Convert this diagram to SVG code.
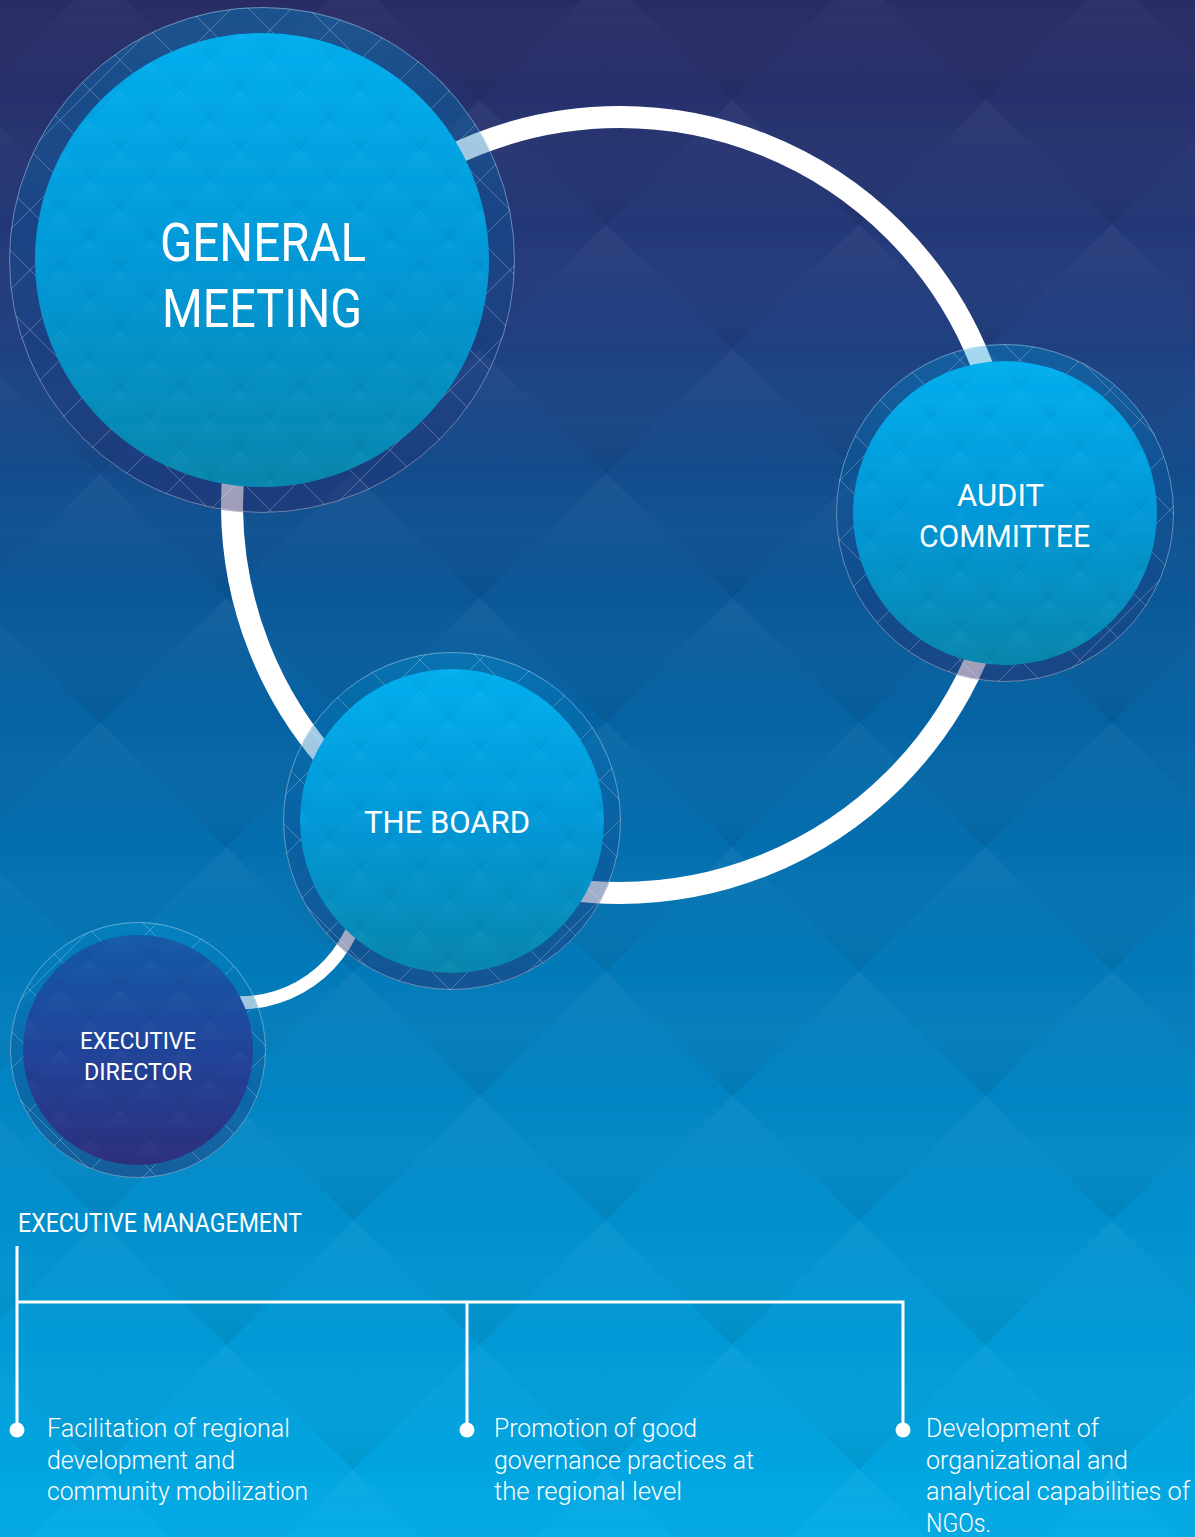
<svg xmlns="http://www.w3.org/2000/svg" width="1195" height="1537" viewBox="0 0 1195 1537">
<defs>
<style>
.lbl{fill:#fff;font-family:Roboto,"Liberation Sans",sans-serif;font-weight:400}
.body{fill:#fff;font-family:Roboto,"Liberation Sans",sans-serif;font-weight:300;font-size:25px}
.conn{fill:none;stroke:#fff}
.tree{fill:none;stroke:#fff;stroke-width:3}
.edge{fill:none;stroke:#fff;stroke-opacity:0.35;stroke-width:1}
</style>
<linearGradient id="bg" x1="0" y1="0" x2="0" y2="1537" gradientUnits="userSpaceOnUse">
<stop offset="0" stop-color="#272a63"/>
<stop offset="0.2" stop-color="#223c7e"/>
<stop offset="0.33" stop-color="#0f4f90"/>
<stop offset="0.45" stop-color="#0560a0"/>
<stop offset="0.6" stop-color="#0275b5"/>
<stop offset="0.75" stop-color="#0189c8"/>
<stop offset="0.9" stop-color="#009dd9"/>
<stop offset="1" stop-color="#00abe6"/>
</linearGradient>
<linearGradient id="shade" x1="0" y1="0" x2="0" y2="1">
<stop offset="0" stop-color="#fff" stop-opacity="0.05"/>
<stop offset="0.5" stop-color="#fff" stop-opacity="0"/>
<stop offset="1" stop-color="#000" stop-opacity="0.08"/>
</linearGradient>
<linearGradient id="shade2" x1="0" y1="0" x2="0" y2="1">
<stop offset="0" stop-color="#fff" stop-opacity="0.04"/>
<stop offset="0.5" stop-color="#fff" stop-opacity="0"/>
<stop offset="1" stop-color="#000" stop-opacity="0.05"/>
</linearGradient>
<pattern id="bigdia" patternUnits="userSpaceOnUse" x="100" y="100" width="253" height="249">
<polygon points="126.5,0 253,124.5 126.5,249 0,124.5" fill="url(#shade)"/>
<polygon points="0,-124.5 126.5,0 0,124.5 -126.5,0" fill="url(#shade)"/>
<polygon points="253,-124.5 379.5,0 253,124.5 126.5,0" fill="url(#shade)"/>
<polygon points="0,124.5 126.5,249 0,373.5 -126.5,249" fill="url(#shade)"/>
<polygon points="253,124.5 379.5,249 253,373.5 126.5,249" fill="url(#shade)"/>
</pattern>
<pattern id="finedia" patternUnits="userSpaceOnUse" x="0" y="0" width="60" height="60">
<polygon points="30,0 60,30 30,60 0,30" fill="url(#shade2)"/>
<polygon points="0,-30 30,0 0,30 -30,0" fill="url(#shade2)"/>
<polygon points="60,-30 90,0 60,30 30,0" fill="url(#shade2)"/>
<polygon points="0,30 30,60 0,90 -30,60" fill="url(#shade2)"/>
<polygon points="60,30 90,60 60,90 30,60" fill="url(#shade2)"/>
</pattern>
<pattern id="hatch" patternUnits="userSpaceOnUse" x="0" y="0" width="60" height="60">
<path d="M0 0L60 60M60 0L0 60" stroke="#fff" stroke-opacity="0.3" stroke-width="0.8"/>
</pattern>
<linearGradient id="ring" x1="0" y1="0" x2="0" y2="1">
<stop offset="0" stop-color="#0095d5" stop-opacity="0.36"/>
<stop offset="0.45" stop-color="#0a5598" stop-opacity="0.38"/>
<stop offset="1" stop-color="#2a2464" stop-opacity="0.45"/>
</linearGradient>
<linearGradient id="inner" x1="0" y1="0" x2="0" y2="1">
<stop offset="0" stop-color="#00aeee"/>
<stop offset="0.5" stop-color="#0098d8"/>
<stop offset="1" stop-color="#0786ad"/>
</linearGradient>
<linearGradient id="innerDark" x1="0" y1="0" x2="0" y2="1">
<stop offset="0" stop-color="#1259a6"/>
<stop offset="0.5" stop-color="#1f4399"/>
<stop offset="1" stop-color="#2b2e7c"/>
</linearGradient>
</defs>

<rect width="1195" height="1537" fill="url(#bg)"/>
<rect width="1195" height="1537" fill="url(#bigdia)"/>

<g id="connectors">
<circle class="conn" cx="620" cy="505" r="388" stroke-width="22"/>
<path class="conn" d="M218.6 1001 A123 123 0 0 0 361 901" stroke-width="13"/>
</g>

<g id="general-meeting">
<circle cx="262" cy="260" r="253" fill="url(#ring)"/>
<circle cx="262" cy="260" r="253" fill="url(#hatch)"/>
<circle class="edge" cx="262" cy="260" r="252.5"/>
<circle cx="262" cy="260" r="227" fill="url(#inner)"/>
<circle cx="262" cy="260" r="227" fill="url(#finedia)"/>
<text class="lbl" x="160" y="261" font-size="53" textLength="206" lengthAdjust="spacingAndGlyphs">GENERAL</text>
<text class="lbl" x="162" y="327" font-size="53" textLength="200" lengthAdjust="spacingAndGlyphs">MEETING</text>
</g>

<g id="audit-committee">
<circle cx="1005" cy="513" r="169" fill="url(#ring)"/>
<circle cx="1005" cy="513" r="169" fill="url(#hatch)"/>
<circle class="edge" cx="1005" cy="513" r="168.5"/>
<circle cx="1005" cy="513" r="152" fill="url(#inner)"/>
<circle cx="1005" cy="513" r="152" fill="url(#finedia)"/>
<text class="lbl" x="957" y="506" font-size="32" textLength="87" lengthAdjust="spacingAndGlyphs">AUDIT</text>
<text class="lbl" x="919" y="547" font-size="32" textLength="171" lengthAdjust="spacingAndGlyphs">COMMITTEE</text>
</g>

<g id="the-board">
<circle cx="452" cy="821" r="169" fill="url(#ring)"/>
<circle cx="452" cy="821" r="169" fill="url(#hatch)"/>
<circle class="edge" cx="452" cy="821" r="168.5"/>
<circle cx="452" cy="821" r="152" fill="url(#inner)"/>
<circle cx="452" cy="821" r="152" fill="url(#finedia)"/>
<text class="lbl" x="364" y="833" font-size="32" textLength="166" lengthAdjust="spacingAndGlyphs">THE BOARD</text>
</g>

<g id="executive-director">
<circle cx="138" cy="1050" r="128" fill="url(#ring)"/>
<circle cx="138" cy="1050" r="128" fill="url(#hatch)"/>
<circle class="edge" cx="138" cy="1050" r="127.5"/>
<circle cx="138" cy="1050" r="115" fill="url(#innerDark)"/>
<circle cx="138" cy="1050" r="115" fill="url(#finedia)"/>
<text class="lbl" x="80" y="1049" font-size="24" textLength="116" lengthAdjust="spacingAndGlyphs">EXECUTIVE</text>
<text class="lbl" x="84" y="1080" font-size="24" textLength="108" lengthAdjust="spacingAndGlyphs">DIRECTOR</text>
</g>

<g id="executive-management">
<text class="lbl" x="18" y="1232" font-size="25" font-weight="300" textLength="284" lengthAdjust="spacingAndGlyphs">EXECUTIVE MANAGEMENT</text>
</g>

<g id="tree-connectors">
<path class="tree" d="M17 1246V1430M17 1302H903V1430M467 1302V1430"/>
<circle cx="17" cy="1430" r="7.5" fill="#fff"/>
<circle cx="467" cy="1430" r="7.5" fill="#fff"/>
<circle cx="903" cy="1430" r="7.5" fill="#fff"/>
</g>

<g id="task-regional-development">
<text class="body" x="47" y="1437" textLength="243" lengthAdjust="spacingAndGlyphs">Facilitation of regional</text>
<text class="body" x="47" y="1468.5" textLength="188" lengthAdjust="spacingAndGlyphs">development and</text>
<text class="body" x="47" y="1500" textLength="261" lengthAdjust="spacingAndGlyphs">community mobilization</text>
</g>

<g id="task-good-governance">
<text class="body" x="494" y="1437" textLength="203" lengthAdjust="spacingAndGlyphs">Promotion of good</text>
<text class="body" x="494" y="1468.5" textLength="260" lengthAdjust="spacingAndGlyphs">governance practices at</text>
<text class="body" x="494" y="1500" textLength="188" lengthAdjust="spacingAndGlyphs">the regional level</text>
</g>

<g id="task-ngo-capabilities">
<text class="body" x="926" y="1437" textLength="173" lengthAdjust="spacingAndGlyphs">Development of</text>
<text class="body" x="926" y="1468.5" textLength="202" lengthAdjust="spacingAndGlyphs">organizational and</text>
<text class="body" x="926" y="1500" textLength="264" lengthAdjust="spacingAndGlyphs">analytical capabilities of</text>
<text class="body" x="926" y="1532" textLength="65" lengthAdjust="spacingAndGlyphs">NGOs.</text>
</g>
</svg>
